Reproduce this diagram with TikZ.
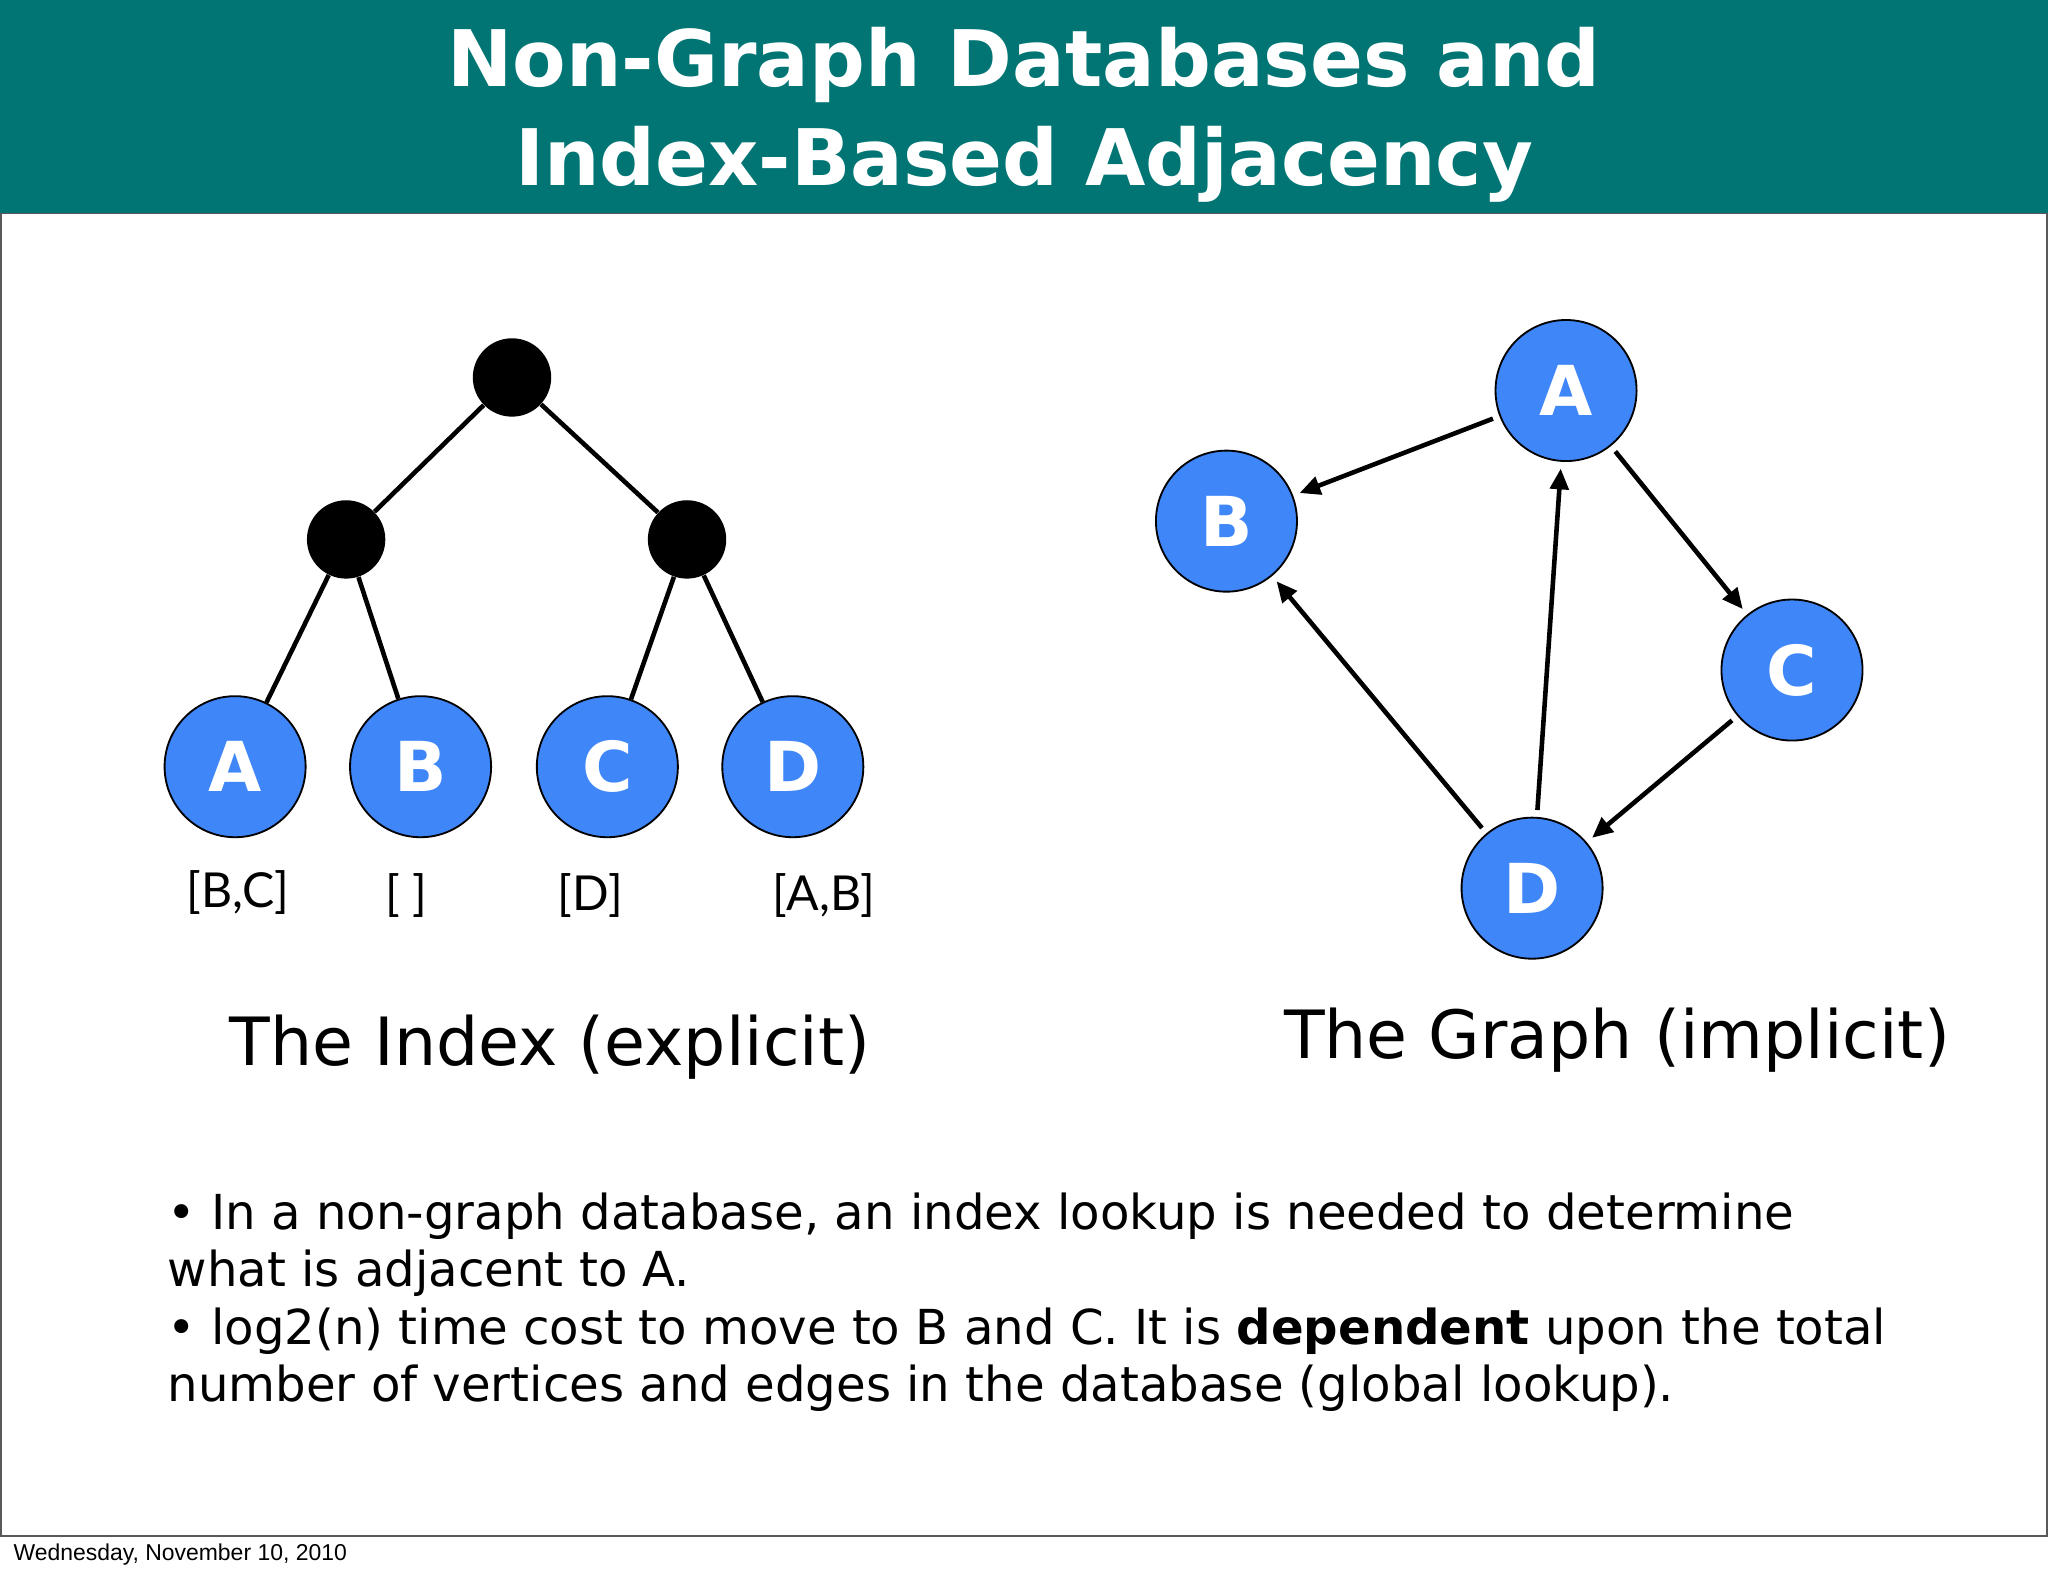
\documentclass[tikz,border=0pt]{standalone}
\usepackage{fontspec}
\setmainfont{DejaVu Sans}
\newfontfamily\lato{Lato}
\newfontfamily\lib{Liberation Sans}
\usetikzlibrary{arrows.meta}
\definecolor{teal1}{HTML}{007574}
\definecolor{nblue}{HTML}{3F86F8}
\tikzset{
 blk/.style={circle,fill=black,minimum size=60*0.02cm,inner sep=0},
 vtx/.style={circle,draw=black,line width=0.8pt,fill=nblue,minimum size=108*0.02cm,inner sep=0,text=white,font=\fontsize{30}{30}\selectfont\bfseries},
 tl/.style={line width=2pt},
 ar/.style={line width=2pt,-{Triangle[length=9pt,width=8pt]},shorten >=3pt,shorten <=3pt},
 lab/.style={font=\lato\fontsize{21}{21}\selectfont},
}
\begin{document}
\begin{tikzpicture}[x=0.02cm,y=-0.02cm]
\useasboundingbox (0,0) rectangle (1568,1206);
\fill[white] (0,0) rectangle (1568,1206);
\draw[gray!70!black,line width=0.8pt] (0.5,163) rectangle (1567.5,1176);
\fill[teal1] (0,0) rectangle (1568,163);
\node[text=white,font=\fontsize{34}{43}\selectfont\bfseries,align=center] (title) at (784,88) {Non-Graph Databases and\\Index-Based Adjacency};
% tree
\node[blk] (r) at (392,289) {};
\node[blk] (l) at (265,413) {};
\node[blk] (rr) at (526,413) {};
\node[vtx] (ta) at (180,587) {A};
\node[vtx] (tb) at (322,587) {B};
\node[vtx] (tc) at (465,587) {C};
\node[vtx] (td) at (607,587) {D};
\draw[tl] (r)--(l); \draw[tl] (r)--(rr);
\draw[tl] (l)--(ta); \draw[tl] (l)--(tb);
\draw[tl] (rr)--(tc); \draw[tl] (rr)--(td);
\node[lab] (la) at (182,683) {[B,C]};
\node[lab] (lb) at (311,686) {[ ]};
\node[lab] (lc) at (452,686) {[D]};
\node[lab] (ld) at (631,686) {[A,B]};
\node[font=\fontsize{29}{29}\selectfont] (c1) at (421,802) {The Index (explicit)};
\node[font=\fontsize{29}{29}\selectfont] (c2) at (1238,796) {The Graph (implicit)};
% graph
\node[vtx] (a) at (1199,299) {A};
\node[vtx] (b) at (939,399) {B};
\node[vtx] (c) at (1372,513) {C};
\node[vtx] (d) at (1173,680) {D};
\draw[ar] (a)--(b);
\draw[ar] (a)--(c);
\draw[ar] (c)--(d);
\draw[ar] (d)--(a);
\draw[ar] (d)--(b);
\node[anchor=north west,align=left,font=\fontsize{21}{25}\selectfont,inner sep=0] (txt) at (128,913) {• In a non-graph database, an index lookup is needed to determine\\what is adjacent to A.\\• log2(n) time cost to move to B and C. It is \textbf{dependent} upon the total\\number of vertices and edges in the database (global lookup).};
\node[anchor=west,font=\lib\fontsize{10}{10}\selectfont,inner sep=0] (date) at (10,1190) {Wednesday, November 10, 2010};
\end{tikzpicture}
\end{document}
